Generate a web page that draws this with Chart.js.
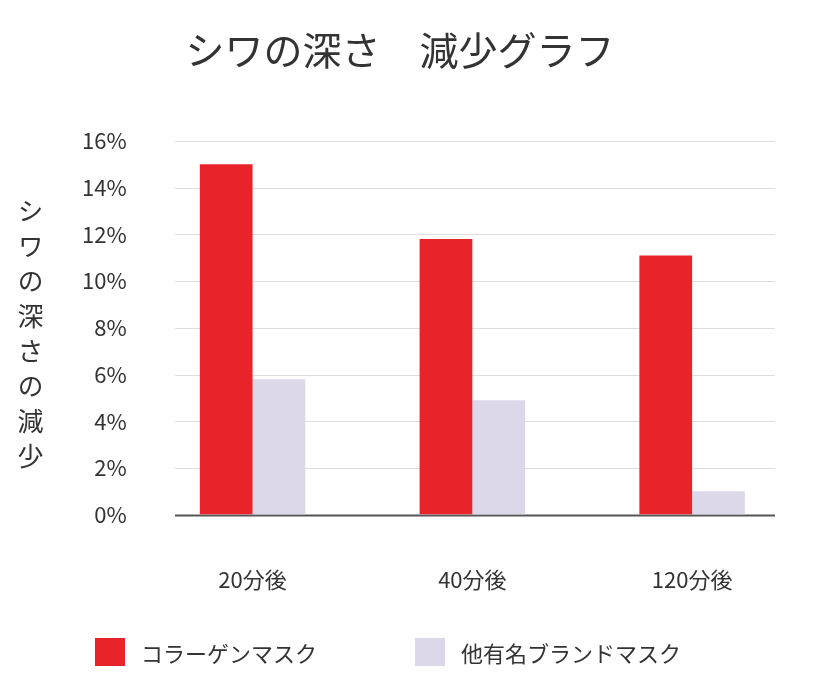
<!DOCTYPE html>
<html><head><meta charset="utf-8">
<script src="https://cdn.jsdelivr.net/npm/chart.js@4"></script>
<style>
body{margin:0;background:#fff;font-family:"Noto Sans CJK JP",sans-serif;color:#333}
#wrap{position:relative;width:834px;height:694px}
#title{position:absolute;left:0;width:800px;top:20px;text-align:center;font-size:39px;color:#333}
#ytitle{position:absolute;left:12px;top:198px;writing-mode:vertical-rl;font-size:26px;letter-spacing:9px;color:#333}
.lg{position:absolute;top:636px;font-size:22px;display:flex;align-items:center;color:#333}
.lg span{display:inline-block;width:30px;height:28px;margin-right:16px}
</style></head><body>
<div id="wrap">
<canvas id="c" width="834" height="694"></canvas>
<div id="title">シワの深さ　減少グラフ</div>
<div id="ytitle">シワの深さの減少</div>
<div class="lg" style="left:95px"><span style="background:#e8232a"></span>コラーゲンマスク</div>
<div class="lg" style="left:415px"><span style="background:#dcd8ea"></span>他有名ブランドマスク</div>
</div>
<script>
const categories=["20分後","40分後","120分後"];
const collagen=[15.0,11.8,11.1];
const other=[5.8,4.9,1.0];
const seriesNames=["コラーゲンマスク","他有名ブランドマスク"];
const gridPlugin={id:'g',beforeDatasetsDraw(ch){
 const c=ch.ctx,y=ch.scales.y;c.save();
 for(let v=0;v<=16;v+=2){const p=Math.round(y.getPixelForValue(v))+0.5;
  c.strokeStyle=v===0?'#555':'#ddd';c.lineWidth=v===0?2:1;
  c.beginPath();c.moveTo(175,p);c.lineTo(775,p);c.stroke();}
 c.restore();}};
new Chart(document.getElementById('c'),{type:'bar',
data:{labels:categories,datasets:[
{label:seriesNames[0],data:collagen,backgroundColor:'#e8232a'},
{label:seriesNames[1],data:other,backgroundColor:'#dcd8ea'}]},
options:{responsive:false,animation:false,
layout:{padding:{left:74,right:32,top:141,bottom:57}},
datasets:{bar:{categoryPercentage:0.48,barPercentage:1}},
plugins:{legend:{display:false},title:{display:false},tooltip:{enabled:false}},
scales:{
x:{grid:{display:false},border:{display:false},ticks:{padding:44,color:'#333',font:{size:22,family:'Noto Sans CJK JP'}}},
y:{min:0,max:16,grid:{display:false},border:{display:false},
ticks:{stepSize:2,padding:8,color:'#333',font:{size:22,family:'Noto Sans CJK JP'},callback:v=>v+'%'}}}},
plugins:[gridPlugin]});
</script></body></html>
